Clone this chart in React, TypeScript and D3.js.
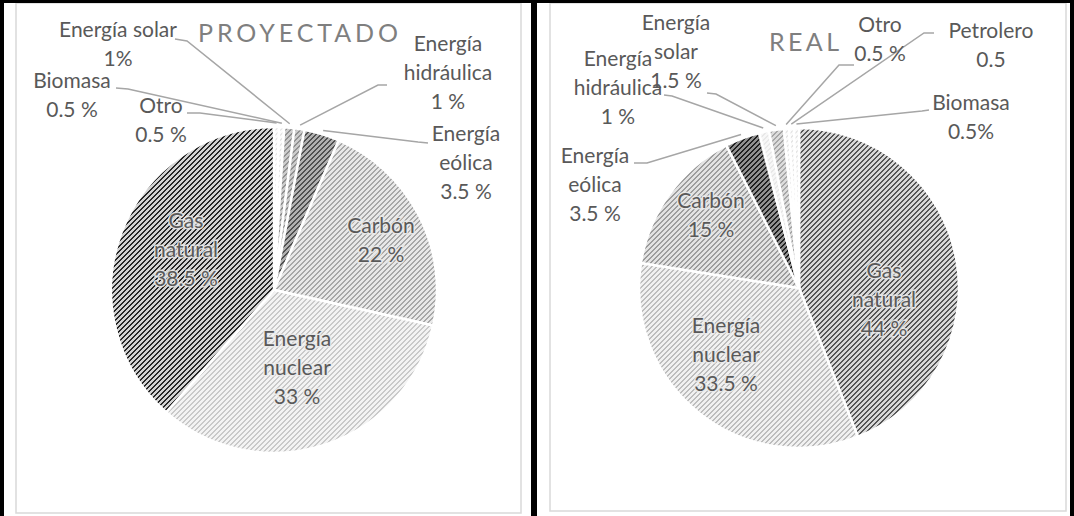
import React from 'react';
import * as d3 from 'd3';

// PROYECTADO (clockwise from 12 o'clock)
const projCategories = ['Otro', 'Biomasa', 'Energía solar', 'Energía hidráulica', 'Energía eólica', 'Carbón', 'Energía nuclear', 'Gas natural'];
const projValues = [0.5, 0.5, 1, 1, 3.5, 22, 33, 38.5];
const projLabels = ['Otro|0.5 %', 'Biomasa|0.5 %', 'Energía solar|1%', 'Energía|hidráulica|1 %', 'Energía|eólica|3.5 %', 'Carbón|22 %', 'Energía|nuclear|33 %', 'Gas|natural|38.5 %'];

// REAL (clockwise from 12 o'clock)
const realCategories = ['Gas natural', 'Energía nuclear', 'Carbón', 'Energía eólica', 'Energía hidráulica', 'Energía solar', 'Otro', 'Petrolero', 'Biomasa'];
const realValues = [44, 33.5, 15, 3.5, 1, 1.5, 0.5, 0.5, 0.5];
const realLabels = ['Gas|natural|44 %', 'Energía|nuclear|33.5 %', 'Carbón|15 %', 'Energía|eólica|3.5 %', 'Energía|hidráulica|1 %', 'Energía|solar|1.5 %', 'Otro|0.5 %', 'Petrolero|0.5', 'Biomasa|0.5%'];

type Lay = { x: number; y: number; lead?: [number, number, number, number] };

// label placement (first-line baseline, leader start + elbow)
const projLayout: Lay[] = [
  { x: 161, y: 113, lead: [187, 113, 200, 113] },
  { x: 72, y: 88, lead: [116, 88, 128, 89] },
  { x: 118, y: 37, lead: [175, 39, 187, 41] },
  { x: 448, y: 51, lead: [387, 85, 378, 85] },
  { x: 466, y: 141, lead: [428, 143, 418, 142] },
  { x: 381, y: 233 },
  { x: 297, y: 346 },
  { x: 186, y: 228 },
];
const realLayout: Lay[] = [
  { x: 884, y: 278 },
  { x: 726, y: 333 },
  { x: 711, y: 208 },
  { x: 595, y: 163, lead: [634, 163, 647, 163] },
  { x: 618, y: 66, lead: [664, 95, 672, 96] },
  { x: 676, y: 30, lead: [707, 93, 716, 94] },
  { x: 880, y: 32, lead: [854, 65, 839, 65] },
  { x: 991, y: 38, lead: [934, 33, 924, 33] },
  { x: 971, y: 110, lead: [929, 110, 922, 111] },
];

const projFills: [string, string][] = [
  ['#fbfbfb', '#e6e6e6'], ['#fbfbfb', '#e6e6e6'], ['#cccccc', '#909090'], ['#cccccc', '#909090'],
  ['#b0b0b0', '#505050'], ['#e8e8e8', '#a8a8a8'], ['#f3f3f3', '#c9c9c9'], ['#d2d2d2', '#262626'],
];
const realFills: [string, string][] = [
  ['#d8d8d8', '#555555'], ['#f1f1f1', '#bdbdbd'], ['#e2e2e2', '#9c9c9c'], ['#909090', '#1f1f1f'],
  ['#f7f7f7', '#e8e8e8'], ['#dcdcdc', '#a6a6a6'], ['#fbfbfb', '#e6e6e6'], ['#fbfbfb', '#e6e6e6'], ['#fbfbfb', '#e6e6e6'],
];

const FONT = 'Lato, "Noto Sans", sans-serif';
const LH = 28.8;
const P = 5;

function Pattern({ id, bg, fg }: { id: string; bg: string; fg: string }) {
  const cells: JSX.Element[] = [];
  for (let x = 0; x < P; x++)
    for (let y = 0; y < P; y++)
      if ((x + y) % P < 2) cells.push(<rect key={`${x}-${y}`} x={x} y={y} width={1} height={1} fill={fg} />);
  return (
    <pattern id={id} width={P} height={P} patternUnits="userSpaceOnUse">
      <rect width={P} height={P} fill={bg} />
      {cells}
    </pattern>
  );
}

function Pie(props: {
  id: string; cx: number; cy: number; r: number; values: number[]; categories: string[];
  labels: string[]; layout: Lay[]; fills: [string, string][];
  title: string; titleX: number; titleY: number; titleW: number;
}) {
  const { id, cx, cy, r, values, categories, labels, layout, fills } = props;
  const pie = d3.pie<number>().sort(null).value(d => d).startAngle(0).endAngle(2 * Math.PI);
  const arcs = pie(values);
  const arc = d3.arc<d3.PieArcDatum<number>>().innerRadius(0).outerRadius(r);

  return (
    <g>
      <defs>
        {fills.map((f, i) => <Pattern key={i} id={`${id}-p${i}`} bg={f[0]} fg={f[1]} />)}
      </defs>
      <g transform={`translate(${cx},${cy})`}>
        {arcs.map((a, i) => (
          <path key={categories[i]} d={arc(a) || ''} fill={`url(#${id}-p${i})`} stroke="#fff" strokeWidth={2.5} />
        ))}
      </g>
      {arcs.map((a, i) => {
        const L = layout[i];
        if (!L.lead) return null;
        const m = (a.startAngle + a.endAngle) / 2;
        const ex = cx + Math.sin(m) * (r + 4);
        const ey = cy - Math.cos(m) * (r + 4);
        return (
          <polyline key={`l${i}`} points={`${L.lead[0]},${L.lead[1]} ${L.lead[2]},${L.lead[3]} ${ex},${ey}`}
            fill="none" stroke="#a6a6a6" strokeWidth={1.5} />
        );
      })}
      {labels.map((lab, i) => (
        <g key={`t${i}`}>
          {lab.split('|').map((line, j) => (
            <text key={j} x={layout[i].x} y={layout[i].y + j * LH} textAnchor="middle"
              fontFamily={FONT} fontSize={21} fill="#595959"
              stroke={layout[i].lead ? 'none' : 'rgba(235,235,235,0.85)'} strokeWidth={3}
              style={{ paintOrder: 'stroke' }}>{line}</text>
          ))}
        </g>
      ))}
      <text x={props.titleX} y={props.titleY} textLength={props.titleW} lengthAdjust="spacing"
        fontFamily={FONT} fontSize={25} fill="#7f7f7f">{props.title}</text>
    </g>
  );
}

export default function App() {
  return (
    <svg width={1074} height={516} style={{ position: 'absolute', left: 0, top: 0, background: '#fff' }}>
      <rect x={16} y={3} width={505} height={510} fill="#fff" stroke="#d9d9d9" strokeWidth={1.5} />
      <rect x={550} y={3} width={516} height={508} fill="#fff" stroke="#d9d9d9" strokeWidth={1.5} />
      <Pie id="proj" cx={274} cy={290} r={163} values={projValues} categories={projCategories}
        labels={projLabels} layout={projLayout} fills={projFills}
        title="PROYECTADO" titleX={198} titleY={42} titleW={200} />
      <Pie id="real" cx={799} cy={288} r={160} values={realValues} categories={realCategories}
        labels={realLabels} layout={realLayout} fills={realFills}
        title="REAL" titleX={769} titleY={51} titleW={70} />
      <rect x={0} y={0} width={1074} height={3} fill="#000" />
      <rect x={0} y={0} width={4} height={516} fill="#000" />
      <rect x={531} y={0} width={6} height={516} fill="#000" />
      <rect x={1070} y={0} width={4} height={516} fill="#000" />
    </svg>
  );
}
